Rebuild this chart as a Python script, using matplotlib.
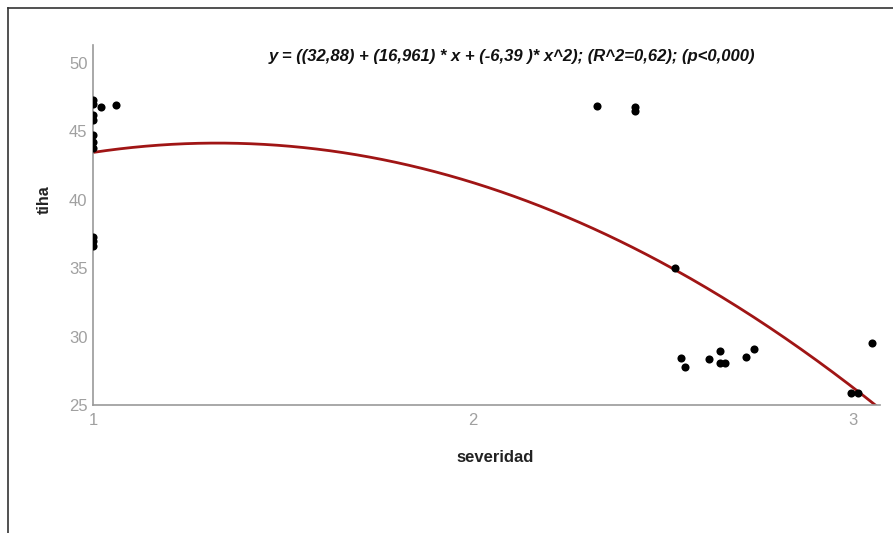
import numpy as np
import matplotlib
matplotlib.use("Agg")
import matplotlib.pyplot as plt
from matplotlib.lines import Line2D

plt.rcParams['font.family'] = ['Liberation Sans', 'DejaVu Sans']

# data points (severidad, tiha)
sev = [1.0, 1.0, 1.0, 1.0, 1.0, 1.0, 1.0, 1.0, 1.0, 1.0, 1.02, 1.06,
       2.325, 2.426, 2.426, 2.53,
       2.547, 2.558, 2.619, 2.648, 2.648, 2.661, 2.718, 2.739,
       2.995, 3.013, 3.049]
tiha = [47.3, 47.0, 46.2, 45.8, 44.7, 44.2, 43.8, 37.3, 37.0, 36.6, 46.78, 46.93,
        46.86, 46.8, 46.5, 35.0,
        28.41, 27.76, 28.34, 28.97, 28.09, 28.05, 28.48, 29.12,
        25.85, 25.85, 29.51]

# quadratic fit coefficients
b0, b1, b2 = 32.88, 16.961, -6.39
title = "y = ((32,88) + (16,961) * x + (-6,39 )* x^2); (R^2=0,62); (p<0,000)"

xticks = [1, 2, 3]
yticks = [25, 30, 35, 40, 45, 50]

fig = plt.figure(figsize=(8.93, 5.33), dpi=100)
ax = fig.add_axes([93/893, 128/533, 787/893, 360/533])

xs = np.linspace(1, 3.07, 300)
ax.plot(xs, b0 + b1*xs + b2*xs**2, color='#a01515', lw=2.0, zorder=2)
ax.scatter(sev, tiha, s=34, color='black', zorder=3, linewidths=0, clip_on=True)

ax.set_xlim(1, 3.07)
ax.set_ylim(25, 51.3)
ax.set_xticks(xticks)
ax.set_yticks(yticks)
ax.tick_params(length=0, labelsize=12, colors='#a0a0a0', pad=4)
ax.tick_params(axis='x', pad=6)
for s in ['top', 'right']:
    ax.spines[s].set_visible(False)
for s in ['left', 'bottom']:
    ax.spines[s].set_color('#999999')
    ax.spines[s].set_linewidth(1.2)

ax.set_xlabel('severidad', fontsize=12, fontweight='bold', color='#222222')
ax.xaxis.set_label_coords((495-93)/787, -(458-405)/360)
ax.xaxis.label.set_va('center')
ax.set_ylabel('tiha', fontsize=11.5, fontweight='bold', color='#222222')
ax.yaxis.set_label_coords((44-93)/787, (405-200)/360)
ax.yaxis.label.set_va('center')
ax.text((512-93)/787, (405-57)/360, title, transform=ax.transAxes, ha='center', va='center',
        fontsize=12, fontweight='bold', fontstyle='italic', color='#111111')

# outer frame (top and left)
fig.add_artist(Line2D([8/893, 8/893], [0, 1-8/533], transform=fig.transFigure, color='#333333', lw=1.2))
fig.add_artist(Line2D([8/893, 1], [1-8/533, 1-8/533], transform=fig.transFigure, color='#333333', lw=1.2))

fig.savefig('out.png', dpi=100)
